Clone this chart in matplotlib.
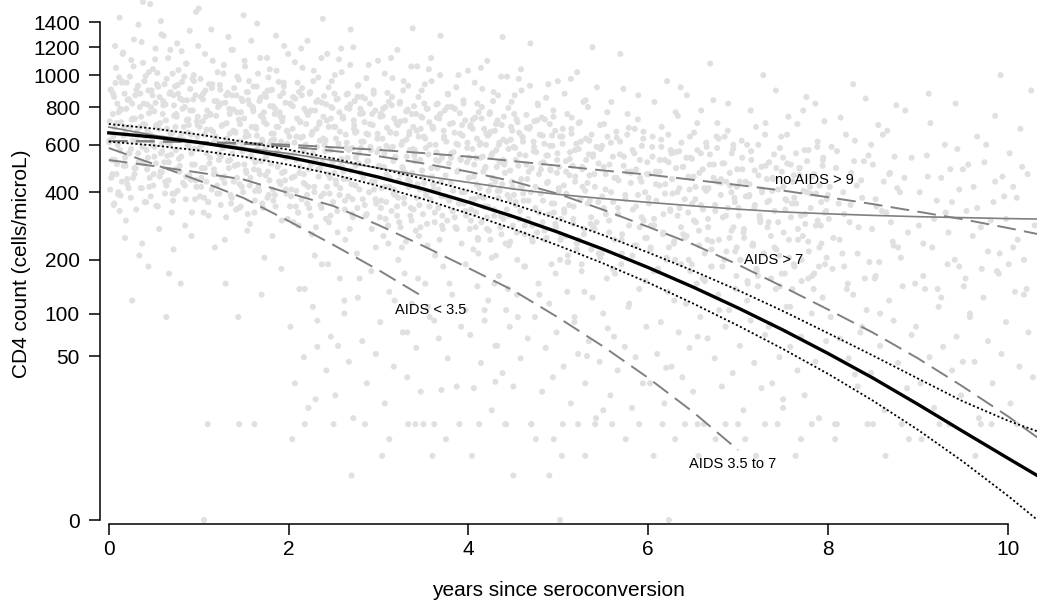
import numpy as np
import matplotlib
matplotlib.use("Agg")
import matplotlib.pyplot as plt
from matplotlib.ticker import NullLocator

plt.rcParams["font.family"] = ["Liberation Sans", "DejaVu Sans"]
plt.rcParams["lines.scale_dashes"] = False

# fitted curves, read every half year (cells/microL)
curve_years = [0.0, 0.5, 1.0, 1.5, 2.0, 2.5, 3.0, 3.5, 4.0, 4.5, 5.0,
               5.5, 6.0, 6.5, 7.0, 7.5, 8.0, 8.5, 9.0, 9.5, 10.0, 10.5]
mean_cd4 = [659.1, 638.1, 611.1, 579.1, 542.2, 501.6, 457.8, 412.0, 364.7, 317.4, 270.5,
            225.4, 182.8, 143.5, 108.3, 77.9, 52.5, 32.5, 17.6, 7.91, 2.69, 0.50]
upper_cd4 = [705.3, 681.1, 650.6, 615.0, 576.6, 536.2, 494.2, 451.1, 405.7, 357.8, 309.6,
             262.6, 217.4, 175.9, 137.7, 103.6, 74.1, 50.5, 32.2, 19.0, 11.17, 6.51]
lower_cd4 = [615.0, 597.0, 573.3, 544.6, 509.2, 468.5, 423.3, 375.2, 326.6, 280.1, 234.8,
             191.9, 152.0, 115.3, 83.4, 56.8, 35.5, 19.3, 8.34, 2.28, 0.163, -0.022]
smooth_cd4 = [689, 647, 616, 585, 559, 528, 495, 463, 437, 412, 392,
              377, 364, 352, 341, 332, 326, 321, 317, 314, 311, 309]
no_aids_9_cd4 = [618, 616, 613, 609, 600, 588, 576, 561, 545, 525, 505,
                 485, 468, 447, 427, 406, 382, 358, 333, 309, 283, 257]
aids_7_cd4 = [618, 617, 613, 604, 592, 571, 547, 515, 480, 441, 394,
              339, 286, 238, 189, 144, 106, 74.7, 48.0, 27.0, 12.7, 4.17]

aids_mid_years = [0.0, 0.5, 1.0, 1.5, 2.0, 2.5, 3.0, 3.5, 4.0, 4.5, 5.0, 5.5, 6.0, 6.5, 7.0]
aids_mid_cd4 = [529.8, 503.7, 476.5, 448.4, 397.0, 351.5, 291.5, 233.6,
                181.7, 137.3, 94.2, 59.3, 32.6, 14.3, 3.89]

aids_early_years = [0.0, 0.5, 1.0, 1.5, 2.0, 2.5, 3.0, 3.5]
aids_early_cd4 = [584.5, 512.2, 444.4, 379.1, 303.6, 236.2, 177.4, 125.9]

label_text = ["no AIDS > 9", "AIDS > 7", "AIDS < 3.5", "AIDS 3.5 to 7"]
label_x = [7.85, 7.39, 3.58, 6.94]
label_y = [446, 199.5, 105.1, 2.0]

y_ticks = [0, 50, 100, 200, 400, 600, 800, 1000, 1200, 1400]
x_ticks = [0, 2, 4, 6, 8, 10]

# individual measurements (years since seroconversion, CD4 count)
obs_0 = [(0.02, 905), (0.05, 640), (0.07, 1210), (0.09, 512), (0.11, 770), (0.13, 388), (0.15, 958),
         (0.17, 690), (0.19, 305), (0.21, 842), (0.23, 560), (0.25, 1105), (0.27, 455), (0.29, 735),
         (0.31, 620), (0.33, 1380), (0.35, 880), (0.37, 240), (0.39, 515), (0.41, 995), (0.43, 668),
         (0.45, 420), (0.47, 798), (0.49, 1042), (0.51, 590), (0.53, 352), (0.55, 925), (0.57, 710),
         (0.59, 478), (0.61, 1290), (0.63, 815), (0.65, 548), (0.67, 170), (0.69, 655), (0.71, 1010),
         (0.73, 395), (0.75, 760), (0.77, 880), (0.79, 505), (0.81, 1170), (0.83, 625), (0.85, 290),
         (0.87, 840), (0.89, 700), (0.91, 448), (0.93, 975), (0.95, 580), (0.97, 1490), (0.99, 745),
         (0.01, 720), (0.04, 470), (0.06, 860), (0.08, 1050), (0.10, 600), (0.12, 335), (0.14, 785),
         (0.16, 1160), (0.18, 540), (0.20, 950), (0.22, 415), (0.24, 690), (0.26, 820), (0.28, 1260),
         (0.30, 495), (0.32, 655), (0.34, 210), (0.36, 745), (0.38, 1085), (0.40, 365), (0.42, 575),
         (0.44, 900), (0.46, 1560), (0.48, 630), (0.50, 470), (0.52, 825), (0.54, 1015), (0.56, 280),
         (0.58, 560), (0.60, 760), (0.62, 940), (0.64, 425), (0.66, 1120), (0.68, 605), (0.70, 330),
         (0.72, 870), (0.74, 690), (0.76, 1230), (0.78, 535), (0.80, 150), (0.82, 790), (0.84, 990),
         (0.86, 460), (0.88, 660), (0.90, 1330), (0.92, 560), (0.94, 845), (0.96, 375), (0.98, 720),
         (0.12, 1440), (0.26, 120), (0.44, 185), (0.58, 1410), (0.72, 225), (0.86, 1080), (0.18, 255),
         (0.38, 1580), (0.64, 95), (0.92, 260), (0.06, 360), (0.52, 1190)]
obs_1 = [(1.01, 690), (1.03, 455), (1.05, 880), (1.07, 1150), (1.09, 560), (1.11, 320), (1.13, 760),
         (1.15, 940), (1.17, 490), (1.19, 640), (1.21, 1020), (1.23, 395), (1.25, 820), (1.27, 585),
         (1.29, 250), (1.31, 710), (1.33, 1280), (1.35, 530), (1.37, 870), (1.39, 440), (1.41, 660),
         (1.43, 990), (1.45, 345), (1.47, 770), (1.49, 600), (1.51, 1100), (1.53, 475), (1.55, 840),
         (1.57, 295), (1.59, 690), (1.61, 925), (1.63, 520), (1.65, 1390), (1.67, 405), (1.69, 750),
         (1.71, 615), (1.73, 205), (1.75, 860), (1.77, 480), (1.79, 1040), (1.81, 655), (1.83, 370),
         (1.85, 790), (1.87, 565), (1.89, 955), (1.91, 430), (1.93, 720), (1.95, 1210), (1.97, 540),
         (1.99, 310), (1.02, 975), (1.04, 600), (1.06, 380), (1.08, 745), (1.10, 10), (1.12, 515),
         (1.14, 1340), (1.16, 665), (1.18, 230), (1.20, 835), (1.22, 560), (1.24, 905), (1.26, 455),
         (1.28, 1070), (1.30, 150), (1.32, 620), (1.34, 790), (1.36, 360), (1.38, 1180), (1.40, 505),
         (1.42, 870), (1.44, 95), (1.46, 705), (1.48, 420), (1.50, 1460), (1.52, 640), (1.54, 275),
         (1.56, 960), (1.58, 545), (1.60, 800), (1.62, 330), (1.64, 680), (1.66, 1010), (1.68, 470),
         (1.70, 130), (1.72, 735), (1.74, 580), (1.76, 1120), (1.78, 390), (1.80, 900), (1.82, 260),
         (1.84, 625), (1.86, 1290), (1.88, 500), (1.90, 770), (1.92, 180), (1.94, 885), (1.96, 445),
         (1.98, 670), (1.00, 1520)]
obs_2 = [(2.01, 640), (2.03, 410), (2.05, 860), (2.07, 1090), (2.09, 530), (2.11, 290), (2.13, 720),
         (2.15, 915), (2.17, 470), (2.19, 600), (2.21, 1250), (2.23, 345), (2.25, 780), (2.27, 560),
         (2.29, 210), (2.31, 680), (2.33, 985), (2.35, 495), (2.37, 825), (2.39, 395), (2.41, 620),
         (2.43, 1150), (2.45, 300), (2.47, 735), (2.49, 520), (2.51, 880), (2.53, 430), (2.55, 60),
         (2.57, 665), (2.59, 1020), (2.61, 480), (2.63, 250), (2.65, 795), (2.67, 575), (2.69, 1340),
         (2.71, 375), (2.73, 700), (2.75, 540), (2.77, 930), (2.79, 160), (2.81, 615), (2.83, 455),
         (2.85, 850), (2.87, 325), (2.89, 1070), (2.91, 590), (2.93, 760), (2.95, 410), (2.97, 230),
         (2.99, 655), (2.02, 820), (2.04, 6), (2.06, 560), (2.08, 350), (2.10, 950), (2.12, 475),
         (2.14, 1190), (2.16, 640), (2.18, 140), (2.20, 770), (2.22, 420), (2.24, 890), (2.26, 265),
         (2.28, 1030), (2.30, 530), (2.32, 90), (2.34, 705), (2.36, 385), (2.38, 1430), (2.40, 600),
         (2.42, 815), (2.44, 190), (2.46, 455), (2.48, 960), (2.50, 10), (2.52, 690), (2.54, 335),
         (2.56, 1110), (2.58, 505), (2.60, 740), (2.62, 120), (2.64, 585), (2.66, 880), (2.68, 280),
         (2.70, 430), (2.72, 1200), (2.74, 660), (2.76, 215), (2.78, 515), (2.80, 790)]
obs_3 = [(3.01, 580), (3.03, 370), (3.05, 790), (3.07, 1010), (3.09, 470), (3.11, 240), (3.13, 660),
         (3.15, 860), (3.17, 410), (3.19, 540), (3.21, 1180), (3.23, 300), (3.25, 720), (3.27, 495),
         (3.29, 170), (3.31, 625), (3.33, 930), (3.35, 440), (3.37, 760), (3.39, 340), (3.41, 10),
         (3.43, 1060), (3.45, 260), (3.47, 680), (3.49, 460), (3.51, 820), (3.53, 390), (3.55, 110),
         (3.57, 600), (3.59, 960), (3.61, 430), (3.63, 210), (3.65, 740), (3.67, 525), (3.69, 1290),
         (3.71, 320), (3.73, 640), (3.75, 6), (3.77, 880), (3.79, 150), (3.81, 560), (3.83, 405),
         (3.85, 790), (3.87, 280), (3.89, 1000), (3.91, 535), (3.93, 700), (3.95, 360), (3.97, 190),
         (3.99, 610), (3.02, 745), (3.04, 3), (3.06, 500), (3.08, 310), (3.10, 885), (3.12, 420),
         (3.14, 1120), (3.16, 590), (3.18, 120), (3.20, 710), (3.22, 380), (3.24, 830), (3.26, 230),
         (3.28, 960), (3.30, 475), (3.32, 75), (3.34, 650), (3.36, 345), (3.38, 1350), (3.40, 550),
         (3.42, 760), (3.44, 160), (3.46, 410), (3.48, 900), (3.50, 10), (3.52, 630), (3.54, 295),
         (3.56, 1040), (3.58, 455), (3.60, 690), (3.62, 90), (3.64, 530), (3.66, 820), (3.68, 250),
         (3.70, 385)]
obs_4 = [(4.01, 540), (4.03, 340), (4.05, 730), (4.07, 950), (4.09, 430), (4.11, 215), (4.13, 610),
         (4.15, 800), (4.17, 380), (4.19, 500), (4.21, 1100), (4.23, 275), (4.25, 665), (4.27, 455),
         (4.29, 150), (4.31, 575), (4.33, 870), (4.35, 405), (4.37, 700), (4.39, 310), (4.41, 10),
         (4.43, 990), (4.45, 235), (4.47, 625), (4.49, 420), (4.51, 760), (4.53, 355), (4.55, 95),
         (4.57, 555), (4.59, 900), (4.61, 395), (4.63, 185), (4.65, 685), (4.67, 480), (4.69, 1230),
         (4.71, 290), (4.73, 590), (4.75, 6), (4.77, 820), (4.79, 130), (4.81, 515), (4.83, 370),
         (4.85, 730), (4.87, 255), (4.89, 940), (4.91, 490), (4.93, 645), (4.95, 330), (4.97, 170),
         (4.99, 560), (4.02, 690), (4.04, 3), (4.06, 460), (4.08, 285), (4.10, 820), (4.12, 385),
         (4.14, 1050), (4.16, 545), (4.18, 105), (4.20, 655), (4.22, 350), (4.24, 770), (4.26, 205),
         (4.28, 890), (4.30, 440), (4.32, 60), (4.34, 600), (4.36, 320), (4.38, 1280), (4.40, 510),
         (4.42, 10), (4.44, 140), (4.46, 375), (4.48, 830), (4.50, 1), (4.52, 585), (4.54, 270),
         (4.56, 975), (4.58, 420), (4.60, 640)]
obs_5 = [(5.01, 500), (5.03, 310), (5.05, 680), (5.07, 880), (5.09, 395), (5.11, 195), (5.13, 565),
         (5.15, 740), (5.17, 350), (5.19, 460), (5.21, 1020), (5.23, 250), (5.25, 615), (5.27, 420),
         (5.29, 135), (5.31, 530), (5.33, 800), (5.35, 370), (5.37, 650), (5.39, 285), (5.41, 10),
         (5.43, 920), (5.45, 215), (5.47, 580), (5.49, 385), (5.51, 705), (5.53, 325), (5.55, 80),
         (5.57, 510), (5.59, 830), (5.61, 365), (5.63, 170), (5.65, 635), (5.67, 445), (5.69, 1150),
         (5.71, 265), (5.73, 545), (5.75, 6), (5.77, 760), (5.79, 115), (5.02, 640), (5.04, 3),
         (5.06, 425), (5.08, 260), (5.10, 760), (5.12, 355), (5.14, 975), (5.16, 505), (5.18, 95),
         (5.20, 605), (5.22, 10), (5.24, 715), (5.26, 190), (5.28, 830), (5.30, 405), (5.32, 50),
         (5.34, 555), (5.36, 295), (5.38, 1200), (5.40, 470), (5.81, 480), (5.83, 340), (5.85, 680),
         (5.87, 235), (5.89, 870), (5.91, 455), (5.93, 595), (5.95, 305), (5.97, 155), (5.99, 520)]
obs_6 = [(6.01, 470), (6.03, 290), (6.05, 640), (6.07, 830), (6.09, 370), (6.11, 180), (6.13, 530),
         (6.15, 690), (6.17, 325), (6.19, 430), (6.21, 960), (6.23, 230), (6.25, 575), (6.27, 395),
         (6.29, 120), (6.31, 495), (6.33, 750), (6.35, 345), (6.37, 610), (6.39, 265), (6.41, 10),
         (6.43, 870), (6.45, 200), (6.47, 540), (6.49, 360), (6.51, 660), (6.53, 300), (6.55, 70),
         (6.57, 475), (6.59, 780), (6.61, 340), (6.63, 155), (6.65, 590), (6.67, 415), (6.69, 1080),
         (6.71, 245), (6.73, 510), (6.75, 6), (6.77, 710), (6.79, 105), (6.81, 450), (6.83, 315),
         (6.85, 640), (6.87, 220), (6.89, 820), (6.91, 425), (6.93, 560), (6.95, 285), (6.97, 140),
         (6.99, 490), (6.06, 3), (6.16, 10), (6.26, 560), (6.36, 920), (6.46, 410), (6.56, 3),
         (6.66, 250), (6.76, 640), (6.86, 10), (6.96, 380)]
obs_7 = [(7.02, 440), (7.06, 270), (7.10, 600), (7.14, 780), (7.18, 345), (7.22, 165), (7.26, 500),
         (7.30, 650), (7.34, 300), (7.38, 405), (7.42, 900), (7.46, 210), (7.50, 540), (7.54, 370),
         (7.58, 110), (7.62, 465), (7.66, 705), (7.70, 320), (7.74, 575), (7.78, 245), (7.82, 10),
         (7.86, 820), (7.90, 185), (7.94, 505), (7.98, 335), (7.04, 620), (7.08, 6), (7.12, 385),
         (7.16, 235), (7.20, 690), (7.24, 320), (7.28, 1000), (7.32, 450), (7.36, 85), (7.40, 555),
         (7.44, 10), (7.48, 640), (7.52, 170), (7.56, 745), (7.60, 360), (7.64, 3), (7.68, 495),
         (7.72, 260), (7.76, 860), (7.80, 420), (7.84, 140), (7.88, 590), (7.92, 290), (7.96, 720),
         (8.00, 390)]
obs_8 = [(8.02, 420), (8.06, 255), (8.10, 570), (8.14, 740), (8.18, 325), (8.22, 150), (8.26, 475),
         (8.30, 620), (8.34, 285), (8.38, 380), (8.42, 850), (8.46, 195), (8.50, 510), (8.54, 350),
         (8.58, 100), (8.62, 440), (8.66, 670), (8.70, 300), (8.74, 545), (8.78, 230), (8.82, 10),
         (8.86, 780), (8.04, 590), (8.08, 6), (8.12, 360), (8.16, 215), (8.20, 650), (8.24, 300),
         (8.28, 940), (8.32, 425), (8.36, 75), (8.40, 525), (8.44, 10), (8.48, 600), (8.52, 160),
         (8.56, 700), (8.60, 335), (8.64, 3), (8.68, 470), (8.72, 245), (8.76, 810), (8.80, 400)]
obs_9 = [(9.02, 400), (9.06, 240), (9.10, 550), (9.14, 710), (9.18, 310), (9.22, 140), (9.26, 455),
         (9.30, 600), (9.34, 270), (9.38, 365), (9.42, 820), (9.46, 185), (9.50, 490), (9.54, 335),
         (9.58, 95), (9.62, 420), (9.66, 640), (9.70, 285), (9.74, 520), (9.78, 220), (9.82, 10),
         (9.86, 750), (9.90, 170), (9.94, 460), (9.98, 310), (10.02, 560), (10.06, 230), (10.10, 380),
         (10.14, 680), (10.18, 130), (10.22, 470), (10.26, 900), (10.30, 290), (9.04, 6), (9.24, 10),
         (9.44, 580), (9.64, 3), (9.84, 365), (9.92, 1000), (9.12, 880)]
obs_low = [(1.45, 10), (1.62, 10), (2.18, 10), (2.85, 10), (3.12, 6), (3.33, 10), (3.90, 10),
           (4.12, 10), (4.70, 10), (4.95, 6), (5.05, 10), (5.60, 10), (5.90, 10), (6.30, 6),
           (6.55, 10), (7.00, 10), (7.30, 10), (7.70, 6), (8.10, 10), (8.50, 10), (8.90, 6),
           (9.35, 10), (9.70, 10), (10.10, 10), (2.30, 20), (3.70, 25), (4.30, 30), (5.50, 15),
           (6.20, 40), (7.50, 20), (8.30, 35), (9.50, 45), (1.06, 0), (5.02, 0), (6.23, 0),
           (2.70, 1), (4.90, 1), (7.20, 3), (3.60, 3), (5.30, 3)]

# denser core of the measurement cloud
core_0_years = [0.005, 0.015, 0.025, 0.035, 0.045, 0.055, 0.065, 0.075, 0.085, 0.095,
                0.105, 0.115, 0.125, 0.135, 0.145, 0.155, 0.165, 0.175, 0.185, 0.195,
                0.205, 0.215, 0.225, 0.235, 0.245, 0.255, 0.265, 0.275, 0.285, 0.295,
                0.305, 0.315, 0.325, 0.335, 0.345, 0.355, 0.365, 0.375, 0.385, 0.395,
                0.405, 0.415, 0.425, 0.435, 0.445, 0.455, 0.465, 0.475, 0.485, 0.495,
                0.505, 0.515, 0.525, 0.535, 0.545, 0.555, 0.565, 0.575, 0.585, 0.595,
                0.605, 0.615, 0.625, 0.635, 0.645, 0.655, 0.665, 0.675, 0.685, 0.695,
                0.705, 0.715, 0.725, 0.735, 0.745, 0.755, 0.765, 0.775, 0.785, 0.795,
                0.805, 0.815, 0.825, 0.835, 0.845, 0.855, 0.865, 0.875, 0.885, 0.895,
                0.905, 0.915, 0.925, 0.935, 0.945, 0.955, 0.965, 0.975, 0.985, 0.995]
core_0_cd4 = [612, 410, 905, 530, 760, 355, 688, 948, 470, 820, 392, 985, 575, 715, 440, 1150, 645, 880, 505, 790,
              450, 845, 560, 990, 380, 730, 620, 1060, 495, 870, 340, 665, 930, 525, 800, 415, 1240, 590, 705, 960,
              700, 365, 815, 540, 1020, 455, 650, 900, 600, 425, 775, 1110, 515, 940, 350, 680, 860, 480, 1300, 570,
              835, 520, 395, 725, 975, 610, 445, 880, 1180, 555, 660, 370, 810, 925, 490, 745, 405, 1035, 630, 850,
              545, 955, 435, 690, 800, 375, 1080, 595, 730, 465, 910, 650, 330, 780, 1000, 510, 870, 420, 640, 1210]
core_1_years = [1.005, 1.015, 1.025, 1.035, 1.045, 1.055, 1.065, 1.075, 1.085, 1.095,
                1.105, 1.115, 1.125, 1.135, 1.145, 1.155, 1.165, 1.175, 1.185, 1.195,
                1.205, 1.215, 1.225, 1.235, 1.245, 1.255, 1.265, 1.275, 1.285, 1.295,
                1.305, 1.315, 1.325, 1.335, 1.345, 1.355, 1.365, 1.375, 1.385, 1.395,
                1.405, 1.415, 1.425, 1.435, 1.445, 1.455, 1.465, 1.475, 1.485, 1.495,
                1.505, 1.515, 1.525, 1.535, 1.545, 1.555, 1.565, 1.575, 1.585, 1.595,
                1.605, 1.615, 1.625, 1.635, 1.645, 1.655, 1.665, 1.675, 1.685, 1.695,
                1.705, 1.715, 1.725, 1.735, 1.745, 1.755, 1.765, 1.775, 1.785, 1.795,
                1.805, 1.815, 1.825, 1.835, 1.845, 1.855, 1.865, 1.875, 1.885, 1.895,
                1.905, 1.915, 1.925, 1.935, 1.945, 1.955, 1.965, 1.975, 1.985, 1.995]
core_1_cd4 = [580, 385, 860, 495, 720, 330, 650, 900, 440, 780, 365, 940, 540, 675, 410, 1100, 610, 835, 470, 750,
              425, 800, 530, 935, 355, 695, 585, 1010, 460, 825, 315, 630, 885, 495, 760, 390, 1180, 560, 670, 915,
              665, 340, 770, 510, 970, 430, 615, 850, 570, 400, 735, 1060, 485, 890, 325, 645, 815, 455, 1250, 540,
              790, 490, 370, 690, 925, 580, 420, 835, 1120, 525, 625, 345, 770, 880, 465, 705, 380, 985, 600, 805,
              515, 905, 410, 655, 760, 350, 1030, 565, 690, 440, 865, 615, 305, 740, 950, 480, 825, 395, 605, 1150]
core_2_years = [2.005, 2.015, 2.025, 2.035, 2.045, 2.055, 2.065, 2.075, 2.085, 2.095,
                2.105, 2.115, 2.125, 2.135, 2.145, 2.155, 2.165, 2.175, 2.185, 2.195,
                2.205, 2.215, 2.225, 2.235, 2.245, 2.255, 2.265, 2.275, 2.285, 2.295,
                2.305, 2.315, 2.325, 2.335, 2.345, 2.355, 2.365, 2.375, 2.385, 2.395,
                2.405, 2.415, 2.425, 2.435, 2.445, 2.455, 2.465, 2.475, 2.485, 2.495,
                2.505, 2.515, 2.525, 2.535, 2.545, 2.555, 2.565, 2.575, 2.585, 2.595,
                2.605, 2.615, 2.625, 2.635, 2.645, 2.655, 2.665, 2.675, 2.685, 2.695,
                2.705, 2.715, 2.725, 2.735, 2.745, 2.755, 2.765, 2.775, 2.785, 2.795,
                2.805, 2.815, 2.825, 2.835, 2.845, 2.855, 2.865, 2.875, 2.885, 2.895,
                2.905, 2.915, 2.925, 2.935, 2.945, 2.955, 2.965, 2.975, 2.985, 2.995]
core_2_cd4 = [545, 350, 815, 455, 680, 300, 610, 850, 405, 735, 330, 890, 500, 635, 375, 1050, 570, 790, 430, 705,
              390, 755, 490, 880, 320, 650, 545, 960, 420, 780, 285, 590, 840, 460, 715, 355, 1120, 520, 630, 865,
              625, 310, 725, 470, 920, 395, 575, 800, 530, 365, 690, 1000, 445, 845, 270, 605, 770, 415, 1190, 500,
              745, 450, 340, 650, 875, 540, 385, 790, 1070, 485, 585, 315, 725, 835, 425, 665, 345, 935, 560, 760,
              475, 860, 375, 615, 715, 320, 980, 525, 650, 400, 820, 575, 280, 700, 900, 440, 780, 360, 565, 1100]
core_3_years = [3.005, 3.015, 3.025, 3.035, 3.045, 3.055, 3.065, 3.075, 3.085, 3.095,
                3.105, 3.115, 3.125, 3.135, 3.145, 3.155, 3.165, 3.175, 3.185, 3.195,
                3.205, 3.215, 3.225, 3.235, 3.245, 3.255, 3.265, 3.275, 3.285, 3.295,
                3.305, 3.315, 3.325, 3.335, 3.345, 3.355, 3.365, 3.375, 3.385, 3.395,
                3.405, 3.415, 3.425, 3.435, 3.445, 3.455, 3.465, 3.475, 3.485, 3.495,
                3.505, 3.515, 3.525, 3.535, 3.545, 3.555, 3.565, 3.575, 3.585, 3.595,
                3.605, 3.615, 3.625, 3.635, 3.645, 3.655, 3.665, 3.675, 3.685, 3.695,
                3.705, 3.715, 3.725, 3.735, 3.745, 3.755, 3.765, 3.775, 3.785, 3.795,
                3.805, 3.815, 3.825, 3.835, 3.845, 3.855, 3.865, 3.875, 3.885, 3.895,
                3.905, 3.915, 3.925, 3.935, 3.945, 3.955, 3.965, 3.975, 3.985, 3.995]
core_3_cd4 = [500, 315, 760, 415, 630, 260, 560, 800, 365, 685, 290, 830, 455, 585, 335, 980, 525, 735, 390, 655,
              350, 700, 445, 820, 285, 600, 500, 900, 380, 725, 245, 545, 785, 420, 665, 320, 1060, 475, 580, 805,
              575, 275, 670, 430, 860, 355, 530, 745, 485, 325, 640, 940, 405, 790, 235, 555, 715, 375, 1120, 460,
              690, 410, 300, 600, 815, 495, 345, 735, 1000, 440, 540, 280, 670, 780, 385, 615, 305, 875, 515, 705,
              435, 800, 335, 565, 660, 285, 920, 480, 600, 360, 765, 530, 240, 645, 840, 400, 725, 320, 520, 1030]
core_4_years = [4.005, 4.015, 4.025, 4.035, 4.045, 4.055, 4.065, 4.075, 4.085, 4.095,
                4.105, 4.115, 4.125, 4.135, 4.145, 4.155, 4.165, 4.175, 4.185, 4.195,
                4.205, 4.215, 4.225, 4.235, 4.245, 4.255, 4.265, 4.275, 4.285, 4.295,
                4.305, 4.315, 4.325, 4.335, 4.345, 4.355, 4.365, 4.375, 4.385, 4.395,
                4.405, 4.415, 4.425, 4.435, 4.445, 4.455, 4.465, 4.475, 4.485, 4.495,
                4.505, 4.515, 4.525, 4.535, 4.545, 4.555, 4.565, 4.575, 4.585, 4.595,
                4.605, 4.615, 4.625, 4.635, 4.645, 4.655, 4.665, 4.675, 4.685, 4.695,
                4.705, 4.715, 4.725, 4.735, 4.745, 4.755, 4.765, 4.775, 4.785, 4.795,
                4.805, 4.815, 4.825, 4.835, 4.845, 4.855, 4.865, 4.875, 4.885, 4.895,
                4.905, 4.915, 4.925, 4.935, 4.945, 4.955, 4.965, 4.975, 4.985, 4.995]
core_4_cd4 = [455, 280, 700, 375, 580, 225, 510, 740, 330, 630, 255, 770, 415, 540, 300, 910, 480, 680, 350, 600,
              315, 645, 405, 760, 250, 550, 455, 835, 340, 670, 210, 500, 725, 380, 610, 285, 990, 430, 530, 745,
              525, 240, 615, 390, 795, 320, 485, 690, 440, 290, 590, 870, 365, 730, 200, 505, 660, 335, 1040, 420,
              635, 370, 265, 550, 755, 450, 310, 680, 930, 400, 495, 245, 615, 720, 345, 565, 270, 810, 470, 650,
              395, 740, 300, 520, 605, 250, 855, 435, 550, 325, 705, 485, 190, 595, 780, 360, 670, 285, 475, 960]
core_5_years = [5.005, 5.025, 5.045, 5.065, 5.085, 5.105, 5.125, 5.145, 5.165, 5.185,
                5.205, 5.225, 5.245, 5.265, 5.285, 5.305, 5.325, 5.345, 5.365, 5.385,
                5.405, 5.425, 5.445, 5.465, 5.485, 5.505, 5.525, 5.545, 5.565, 5.585,
                5.605, 5.625, 5.645, 5.665, 5.685, 5.705, 5.725, 5.745, 5.765, 5.785,
                5.805, 5.825, 5.845, 5.865, 5.885, 5.905, 5.925, 5.945, 5.965, 5.985]
core_5_cd4 = [415, 250, 640, 340, 525, 195, 465, 680, 295, 575, 225, 710, 375, 490, 265, 840, 435, 620, 315, 545,
              280, 590, 365, 700, 215, 500, 410, 770, 305, 610, 180, 455, 665, 345, 555, 250, 910, 390, 480, 685,
              475, 210, 560, 350, 730, 285, 440, 630, 400, 255]
core_6_years = [6.005, 6.025, 6.045, 6.065, 6.085, 6.105, 6.125, 6.145, 6.165, 6.185,
                6.205, 6.225, 6.245, 6.265, 6.285, 6.305, 6.325, 6.345, 6.365, 6.385,
                6.405, 6.425, 6.445, 6.465, 6.485, 6.505, 6.525, 6.545, 6.565, 6.585,
                6.605, 6.625, 6.645, 6.665, 6.685, 6.705, 6.725, 6.745, 6.765, 6.785,
                6.805, 6.825, 6.845, 6.865, 6.885, 6.905, 6.925, 6.945, 6.965, 6.985]
core_6_cd4 = [380, 225, 590, 310, 480, 175, 425, 625, 265, 530, 200, 650, 340, 450, 240, 770, 400, 570, 285, 500,
              255, 540, 330, 640, 190, 460, 375, 710, 275, 560, 160, 415, 610, 310, 510, 225, 840, 355, 440, 630,
              435, 185, 515, 320, 670, 255, 400, 580, 365, 230]
core_7_years = [7.005, 7.025, 7.045, 7.065, 7.085, 7.105, 7.125, 7.145, 7.165, 7.185,
                7.205, 7.225, 7.245, 7.265, 7.285, 7.305, 7.325, 7.345, 7.365, 7.385,
                7.405, 7.425, 7.445, 7.465, 7.485, 7.505, 7.525, 7.545, 7.565, 7.585,
                7.605, 7.625, 7.645, 7.665, 7.685, 7.705, 7.725, 7.745, 7.765, 7.785,
                7.805, 7.825, 7.845, 7.865, 7.885, 7.905, 7.925, 7.945, 7.965, 7.985]
core_7_cd4 = [345, 200, 540, 280, 440, 155, 390, 570, 240, 485, 180, 600, 310, 410, 215, 710, 365, 520, 260, 455,
              230, 495, 300, 585, 170, 420, 340, 650, 250, 510, 140, 380, 560, 280, 465, 200, 780, 325, 400, 575,
              395, 165, 470, 290, 615, 230, 365, 530, 330, 205]
core_8_years = [8.01, 8.05, 8.09, 8.13, 8.17, 8.21, 8.25, 8.29, 8.33, 8.37, 8.41, 8.45, 8.49,
                8.53, 8.57, 8.61, 8.65, 8.69, 8.73, 8.77, 8.81, 8.85, 8.89, 8.93, 8.97]
core_8_cd4 = [310, 180, 495, 250, 400, 140, 355, 525, 215, 445, 160, 550, 280, 375, 195, 650, 330, 475,
              235, 415, 205, 455, 270, 540, 150]
core_9_years = [9.01, 9.06, 9.11, 9.16, 9.21, 9.26, 9.31, 9.36, 9.41, 9.46, 9.51, 9.56, 9.61,
                9.66, 9.71, 9.76, 9.81, 9.86, 9.91, 9.96, 10.01, 10.06, 10.11, 10.16, 10.21]
core_9_cd4 = [290, 165, 460, 230, 370, 125, 330, 490, 200, 410, 145, 510, 260, 345, 180, 600, 305, 440,
              215, 385, 190, 420, 250, 500, 140]

# extra measurements filling the densest part of the cloud
fill_0_years = [0.007, 0.027, 0.047, 0.067, 0.087, 0.107, 0.127, 0.147, 0.167, 0.187,
                0.207, 0.227, 0.247, 0.267, 0.287, 0.307, 0.327, 0.347, 0.367, 0.387,
                0.407, 0.427, 0.447, 0.467, 0.487, 0.507, 0.527, 0.547, 0.567, 0.587,
                0.607, 0.627, 0.647, 0.667, 0.687, 0.707, 0.727, 0.747, 0.767, 0.787,
                0.807, 0.827, 0.847, 0.867, 0.887, 0.907, 0.927, 0.947, 0.967, 0.987]
fill_0_cd4 = [620, 455, 880, 530, 710, 400, 790, 950, 505, 660, 430, 845, 580, 735, 470, 905, 560, 690, 415, 820,
              640, 490, 765, 385, 870, 545, 700, 925, 460, 605, 810, 440, 680, 520, 890, 395, 750, 575, 935, 480,
              655, 840, 425, 725, 595, 780, 510, 960, 445, 700]
fill_1_years = [1.007, 1.027, 1.047, 1.067, 1.087, 1.107, 1.127, 1.147, 1.167, 1.187,
                1.207, 1.227, 1.247, 1.267, 1.287, 1.307, 1.327, 1.347, 1.367, 1.387,
                1.407, 1.427, 1.447, 1.467, 1.487, 1.507, 1.527, 1.547, 1.567, 1.587,
                1.607, 1.627, 1.647, 1.667, 1.687, 1.707, 1.727, 1.747, 1.767, 1.787,
                1.807, 1.827, 1.847, 1.867, 1.887, 1.907, 1.927, 1.947, 1.967, 1.987]
fill_1_cd4 = [585, 420, 845, 495, 675, 365, 755, 915, 470, 625, 395, 810, 545, 700, 435, 870, 525, 655, 380, 785,
              605, 455, 730, 350, 835, 510, 665, 890, 425, 570, 775, 405, 645, 485, 855, 360, 715, 540, 900, 445,
              620, 805, 390, 690, 560, 745, 475, 925, 410, 665]
fill_2_years = [2.007, 2.027, 2.047, 2.067, 2.087, 2.107, 2.127, 2.147, 2.167, 2.187,
                2.207, 2.227, 2.247, 2.267, 2.287, 2.307, 2.327, 2.347, 2.367, 2.387,
                2.407, 2.427, 2.447, 2.467, 2.487, 2.507, 2.527, 2.547, 2.567, 2.587,
                2.607, 2.627, 2.647, 2.667, 2.687, 2.707, 2.727, 2.747, 2.767, 2.787,
                2.807, 2.827, 2.847, 2.867, 2.887, 2.907, 2.927, 2.947, 2.967, 2.987]
fill_2_cd4 = [550, 385, 805, 460, 640, 330, 715, 870, 435, 590, 360, 770, 510, 665, 400, 830, 490, 620, 345, 745,
              570, 420, 690, 320, 795, 475, 630, 850, 390, 535, 735, 370, 610, 450, 815, 325, 680, 505, 860, 410,
              585, 765, 355, 655, 525, 705, 440, 880, 375, 630]
fill_3_years = [3.007, 3.027, 3.047, 3.067, 3.087, 3.107, 3.127, 3.147, 3.167, 3.187,
                3.207, 3.227, 3.247, 3.267, 3.287, 3.307, 3.327, 3.347, 3.367, 3.387,
                3.407, 3.427, 3.447, 3.467, 3.487, 3.507, 3.527, 3.547, 3.567, 3.587,
                3.607, 3.627, 3.647, 3.667, 3.687, 3.707, 3.727, 3.747, 3.767, 3.787,
                3.807, 3.827, 3.847, 3.867, 3.887, 3.907, 3.927, 3.947, 3.967, 3.987]
fill_3_cd4 = [505, 345, 750, 420, 595, 290, 665, 810, 395, 545, 320, 715, 470, 615, 360, 775, 450, 575, 305, 690,
              525, 380, 640, 285, 740, 435, 585, 790, 350, 495, 680, 330, 565, 410, 760, 290, 630, 465, 800, 370,
              540, 710, 315, 605, 485, 655, 400, 820, 335, 585]
fill_4_years = [4.007, 4.027, 4.047, 4.067, 4.087, 4.107, 4.127, 4.147, 4.167, 4.187,
                4.207, 4.227, 4.247, 4.267, 4.287, 4.307, 4.327, 4.347, 4.367, 4.387,
                4.407, 4.427, 4.447, 4.467, 4.487, 4.507, 4.527, 4.547, 4.567, 4.587,
                4.607, 4.627, 4.647, 4.667, 4.687, 4.707, 4.727, 4.747, 4.767, 4.787,
                4.807, 4.827, 4.847, 4.867, 4.887, 4.907, 4.927, 4.947, 4.967, 4.987]
fill_4_cd4 = [455, 305, 680, 375, 540, 250, 600, 735, 350, 495, 280, 650, 425, 560, 320, 705, 405, 520, 265, 625,
              475, 340, 580, 245, 670, 390, 530, 715, 310, 450, 615, 290, 510, 370, 690, 255, 570, 420, 725, 330,
              490, 645, 275, 550, 440, 595, 360, 745, 295, 530]
fill_5_years = [5.007, 5.027, 5.047, 5.067, 5.087, 5.107, 5.127, 5.147, 5.167, 5.187,
                5.207, 5.227, 5.247, 5.267, 5.287, 5.307, 5.327, 5.347, 5.367, 5.387,
                5.407, 5.427, 5.447, 5.467, 5.487, 5.507, 5.527, 5.547, 5.567, 5.587,
                5.607, 5.627, 5.647, 5.667, 5.687, 5.707, 5.727, 5.747, 5.767, 5.787,
                5.807, 5.827, 5.847, 5.867, 5.887, 5.907, 5.927, 5.947, 5.967, 5.987]
fill_5_cd4 = [405, 265, 605, 330, 480, 210, 535, 655, 310, 440, 240, 580, 375, 500, 280, 630, 360, 465, 225, 555,
              420, 300, 515, 205, 595, 345, 470, 640, 270, 400, 545, 250, 455, 325, 615, 215, 505, 375, 650, 290,
              435, 575, 235, 490, 390, 530, 315, 665, 255, 470]
fill_6_years = [6.007, 6.027, 6.047, 6.067, 6.087, 6.107, 6.127, 6.147, 6.167, 6.187,
                6.207, 6.227, 6.247, 6.267, 6.287, 6.307, 6.327, 6.347, 6.367, 6.387,
                6.407, 6.427, 6.447, 6.467, 6.487, 6.507, 6.527, 6.547, 6.567, 6.587,
                6.607, 6.627, 6.647, 6.667, 6.687, 6.707, 6.727, 6.747, 6.767, 6.787,
                6.807, 6.827, 6.847, 6.867, 6.887, 6.907, 6.927, 6.947, 6.967, 6.987]
fill_6_cd4 = [360, 230, 545, 290, 430, 180, 480, 590, 270, 395, 205, 520, 335, 450, 245, 565, 320, 415, 190, 500,
              375, 260, 460, 175, 535, 305, 420, 575, 235, 355, 490, 215, 405, 285, 555, 185, 455, 335, 585, 250,
              390, 515, 200, 440, 345, 475, 275, 600, 220, 420]
fill_7_years = [7.007, 7.027, 7.047, 7.067, 7.087, 7.107, 7.127, 7.147, 7.167, 7.187,
                7.207, 7.227, 7.247, 7.267, 7.287, 7.307, 7.327, 7.347, 7.367, 7.387,
                7.407, 7.427, 7.447, 7.467, 7.487, 7.507, 7.527, 7.547, 7.567, 7.587,
                7.607, 7.627, 7.647, 7.667, 7.687, 7.707, 7.727, 7.747, 7.767, 7.787,
                7.807, 7.827, 7.847, 7.867, 7.887, 7.907, 7.927, 7.947, 7.967, 7.987]
fill_7_cd4 = [320, 200, 490, 255, 385, 150, 430, 530, 235, 355, 175, 465, 300, 400, 215, 505, 285, 370, 160, 450,
              335, 225, 410, 145, 480, 270, 375, 515, 205, 315, 440, 185, 360, 250, 495, 155, 405, 295, 525, 220,
              345, 460, 170, 395, 305, 425, 240, 540, 190, 375]

# low counts below the fitted curves
low_a_years = [2.02, 2.07, 2.12, 2.17, 2.22, 2.27, 2.32, 2.37, 2.42, 2.47, 2.52, 2.57, 2.62, 2.67,
               2.72, 2.77, 2.82, 2.87, 2.92, 2.97, 3.02, 3.07, 3.12, 3.17, 3.22, 3.27, 3.32, 3.37,
               3.42, 3.47, 3.52, 3.57, 3.62, 3.67, 3.72, 3.77, 3.82, 3.87, 3.92, 3.97]
low_a_cd4 = [82, 29, 140, 49, 16, 110, 59, 190, 38, 70, 22, 160, 100, 45, 12, 125, 65, 29, 175, 52,
             88, 18, 135, 41, 200, 75, 33, 115, 58, 24, 150, 95, 10, 68, 185, 48, 130, 27, 82, 105]
low_b_years = [4.02, 4.06, 4.10, 4.14, 4.18, 4.22, 4.26, 4.30, 4.34, 4.38, 4.42, 4.46, 4.50, 4.54,
               4.58, 4.62, 4.66, 4.70, 4.74, 4.78, 4.82, 4.86, 4.90, 4.94, 4.98, 5.02, 5.06, 5.10,
               5.14, 5.18, 5.22, 5.26, 5.30, 5.34, 5.38, 5.42, 5.46, 5.50, 5.54, 5.58, 5.62, 5.66,
               5.70, 5.74, 5.78, 5.82, 5.86, 5.90, 5.94, 5.98]
low_b_cd4 = [72, 26, 145, 44, 90, 120, 15, 60, 165, 36, 105, 82, 27, 130, 48, 185, 68, 10, 95, 150,
             24, 58, 115, 33, 75, 200, 41, 135, 18, 88, 52, 175, 29, 65, 125, 12, 45, 100, 160, 22,
             70, 38, 190, 59, 110, 16, 49, 140, 29, 82]
low_c_years = [6.02, 6.06, 6.10, 6.14, 6.18, 6.22, 6.26, 6.30, 6.34, 6.38, 6.42, 6.46, 6.50, 6.54,
               6.58, 6.62, 6.66, 6.70, 6.74, 6.78, 6.82, 6.86, 6.90, 6.94, 6.98, 7.02, 7.06, 7.10,
               7.14, 7.18, 7.22, 7.26, 7.30, 7.34, 7.38, 7.42, 7.46, 7.50, 7.54, 7.58, 7.62, 7.66,
               7.70, 7.74, 7.78, 7.82, 7.86, 7.90, 7.94, 7.98]
low_c_cd4 = [29, 175, 52, 88, 18, 135, 41, 200, 75, 33, 115, 58, 24, 150, 95, 10, 68, 185, 48, 130,
             27, 82, 105, 36, 165, 60, 15, 120, 90, 44, 145, 26, 72, 82, 29, 140, 49, 16, 110, 59,
             190, 38, 70, 22, 160, 100, 45, 12, 125, 65]
low_d_years = [8.03, 8.08, 8.13, 8.18, 8.23, 8.28, 8.33, 8.38, 8.43, 8.48, 8.53, 8.58, 8.63, 8.68,
               8.73, 8.78, 8.83, 8.88, 8.93, 8.98, 9.03, 9.08, 9.13, 9.18, 9.23, 9.28, 9.33, 9.38,
               9.43, 9.48, 9.53, 9.58, 9.63, 9.68, 9.73, 9.78, 9.83, 9.88, 9.93, 9.98, 10.03, 10.08,
               10.13, 10.18, 10.23, 10.28]
low_d_cd4 = [95, 10, 68, 185, 48, 130, 27, 82, 105, 36, 165, 60, 15, 120, 90, 44, 145, 26, 72, 82,
             29, 140, 49, 16, 110, 59, 190, 38, 70, 22, 160, 100, 45, 12, 125, 65, 29, 175, 52, 88,
             18, 135, 41, 200, 75, 33]


def main() -> None:
    fig = plt.figure(figsize=(10.37, 6.01), dpi=100)
    ax = fig.add_axes([100 / 1037, 0.1276, 937 / 1037, 0.8724])
    ax.set_yscale("function", functions=(np.cbrt, lambda v: np.power(v, 3)))

    obs = obs_0 + obs_1 + obs_2 + obs_3 + obs_4 + obs_5 + obs_6 + obs_7 + obs_8 + obs_9 + obs_low
    obs_years, obs_cd4 = map(list, zip(*obs))
    extra_years = (core_0_years + core_1_years + core_2_years + core_3_years + core_4_years
                   + core_5_years + core_6_years + core_7_years + core_8_years + core_9_years
                   + fill_0_years + fill_1_years + fill_2_years + fill_3_years + fill_4_years
                   + fill_5_years + fill_6_years + fill_7_years
                   + low_a_years + low_b_years + low_c_years + low_d_years)
    extra_cd4 = (core_0_cd4 + core_1_cd4 + core_2_cd4 + core_3_cd4 + core_4_cd4
                 + core_5_cd4 + core_6_cd4 + core_7_cd4 + core_8_cd4 + core_9_cd4
                 + fill_0_cd4 + fill_1_cd4 + fill_2_cd4 + fill_3_cd4 + fill_4_cd4
                 + fill_5_cd4 + fill_6_cd4 + fill_7_cd4
                 + low_a_cd4 + low_b_cd4 + low_c_cd4 + low_d_cd4)
    ax.scatter(obs_years + extra_years, obs_cd4 + extra_cd4, s=19, color="#e0e0e0",
               edgecolors="none", zorder=1)

    grey = "#808080"
    long_dash = (13.5, 6.0)
    ax.plot(curve_years, smooth_cd4, color=grey, lw=1.2, zorder=3)
    ax.plot(curve_years, no_aids_9_cd4, color=grey, lw=1.4, dashes=long_dash, zorder=3)
    ax.plot(curve_years, aids_7_cd4, color=grey, lw=1.4, dashes=long_dash, zorder=3)
    ax.plot(aids_mid_years, aids_mid_cd4, color=grey, lw=1.4, dashes=long_dash, zorder=3)
    ax.plot(aids_early_years, aids_early_cd4, color=grey, lw=1.4, dashes=long_dash, zorder=3)

    ax.plot(curve_years, upper_cd4, color="black", lw=1.3, dashes=(1.5, 1.7), zorder=4)
    ax.plot(curve_years, lower_cd4, color="black", lw=1.3, dashes=(1.5, 1.7), zorder=4)
    ax.plot(curve_years, mean_cd4, color="black", lw=2.4, zorder=5)

    for txt, lx, ly in zip(label_text, label_x, label_y):
        ax.text(lx, ly, txt, ha="center", va="center", fontsize=10.5, zorder=6)

    ax.set_xlim(-0.098, 10.325)
    ax.set_ylim(-0.0009, 1597)

    for side in ("top", "right"):
        ax.spines[side].set_visible(False)
    ax.spines["left"].set_bounds(0, 1400)
    ax.spines["bottom"].set_bounds(0, 10)
    for side in ("left", "bottom"):
        ax.spines[side].set_linewidth(1.1)

    ax.set_xticks(x_ticks)
    ax.set_yticks(y_ticks)
    ax.set_xticklabels([str(t) for t in x_ticks])
    ax.set_yticklabels([str(t) for t in y_ticks])
    ax.yaxis.set_minor_locator(NullLocator())
    ax.xaxis.set_minor_locator(NullLocator())
    ax.tick_params(axis="both", length=8, width=1.1, labelsize=15, colors="black")
    ax.tick_params(axis="y", pad=6.5)
    ax.tick_params(axis="x", pad=3)

    fig.text(22 / 1037, 0.5616, "CD4 count (cells/microL)", rotation=90,
             ha="center", va="center", fontsize=15)
    fig.text(558 / 1037, 5 / 601, "years since seroconversion",
             ha="center", va="baseline", fontsize=15)

    fig.savefig("out.png", dpi=100)


if __name__ == "__main__":
    main()
